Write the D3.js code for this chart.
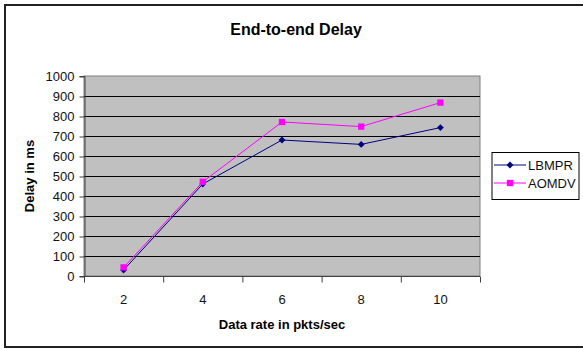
<!DOCTYPE html>
<html>
<head>
<meta charset="utf-8">
<script src="https://cdn.jsdelivr.net/npm/d3@7"></script>
<style>
body { margin: 0; background: #fff; }
text { font-family: "Liberation Sans", Arial, sans-serif; }
</style>
</head>
<body>
<script>
// chart data
const rates = [2, 4, 6, 8, 10];
const lbmpr = [30, 460, 680, 658, 742];
const aomdv = [43, 471, 770, 747, 867];
const yTicks = [0, 100, 200, 300, 400, 500, 600, 700, 800, 900, 1000];

const W = 583, H = 349;
const plotL = 84, plotR = 480, plotT = 76, plotB = 276;

const svg = d3.select("body").append("svg")
  .attr("width", W)
  .attr("height", H);

// outer frame
svg.append("rect")
  .attr("x", 5).attr("y", 5)
  .attr("width", 600).attr("height", 342)
  .attr("fill", "#fff")
  .attr("stroke", "#222")
  .attr("stroke-width", 2);

const x = d3.scaleBand().domain(rates).range([plotL, plotR]);
const y = d3.scaleLinear().domain([0, 1000]).range([plotB, plotT]);

// plot area
svg.append("rect")
  .attr("x", plotL).attr("y", plotT)
  .attr("width", plotR - plotL).attr("height", plotB - plotT)
  .attr("fill", "#c0c0c0")
  .attr("stroke", "#808080")
  .attr("stroke-width", 1);

// gridlines
svg.append("g")
  .selectAll("line")
  .data(yTicks.filter(d => d > 0 && d < 1000))
  .enter()
  .append("line")
  .attr("x1", plotL).attr("x2", plotR)
  .attr("y1", d => y(d) + 0.5).attr("y2", d => y(d) + 0.5)
  .attr("stroke", "#000")
  .attr("stroke-width", 1);

// y axis
const yAxis = svg.append("g")
  .attr("transform", `translate(${plotL + 0.5},0)`)
  .call(d3.axisLeft(y).tickValues(yTicks).tickFormat(d3.format("d")).tickSize(5).tickPadding(5));
yAxis.select(".domain").attr("stroke", "#404040");
yAxis.selectAll(".tick line").attr("stroke", "#404040").attr("transform", "translate(0,0.5)");
yAxis.selectAll(".tick text")
  .attr("font-size", 13)
  .attr("fill", "#111")
  .style("font-family", "'Liberation Sans', Arial, sans-serif");

// x axis (ticks between categories)
const xAxis = svg.append("g")
  .attr("transform", `translate(0,${plotB + 0.5})`);
xAxis.append("line")
  .attr("x1", plotL).attr("x2", plotR)
  .attr("stroke", "#404040");
xAxis.selectAll("line.tk")
  .data(rates.concat(["end"]))
  .enter()
  .append("line")
  .attr("class", "tk")
  .attr("x1", (d, i) => plotL + i * x.bandwidth() + 0.5)
  .attr("x2", (d, i) => plotL + i * x.bandwidth() + 0.5)
  .attr("y1", 0).attr("y2", 6)
  .attr("stroke", "#404040");
xAxis.selectAll("text")
  .data(rates)
  .enter()
  .append("text")
  .attr("x", d => x(d) + x.bandwidth() / 2)
  .attr("y", 27)
  .attr("text-anchor", "middle")
  .attr("font-size", 13)
  .attr("fill", "#111")
  .text(d => d);

// titles
svg.append("text")
  .attr("x", 296).attr("y", 35)
  .attr("text-anchor", "middle")
  .attr("font-size", 16)
  .attr("font-weight", "bold")
  .text("End-to-end Delay");

svg.append("text")
  .attr("x", 282).attr("y", 329)
  .attr("text-anchor", "middle")
  .attr("font-size", 13)
  .attr("font-weight", "bold")
  .text("Data rate in pkts/sec");

svg.append("text")
  .attr("transform", "translate(34,176) rotate(-90)")
  .attr("text-anchor", "middle")
  .attr("font-size", 13)
  .attr("font-weight", "bold")
  .text("Delay in ms");

// series
const cx = d => x(d) + x.bandwidth() / 2;
const series = [
  { name: "LBMPR", values: lbmpr, color: "#000080", shape: d3.symbolDiamond2, size: 30 },
  { name: "AOMDV", values: aomdv, color: "#ff00ff", shape: d3.symbolSquare, size: 40 }
];

const line = d3.line()
  .x(d => cx(d[0]))
  .y(d => y(d[1]));

series.forEach(s => {
  const pts = rates.map((r, i) => [r, s.values[i]]);
  svg.append("path")
    .datum(pts)
    .attr("d", line)
    .attr("fill", "none")
    .attr("stroke", s.color)
    .attr("stroke-width", 1);
  svg.append("g")
    .selectAll("path")
    .data(pts)
    .enter()
    .append("path")
    .attr("d", d3.symbol().type(s.shape).size(s.size))
    .attr("transform", d => `translate(${cx(d[0])},${y(d[1])})`)
    .attr("fill", s.color);
});

// legend
const lg = svg.append("g");
lg.append("rect")
  .attr("x", 492).attr("y", 152.5)
  .attr("width", 87).attr("height", 47)
  .attr("fill", "#fff")
  .attr("stroke", "#000")
  .attr("stroke-width", 1);

series.forEach((s, i) => {
  const ly = 165 + i * 18;
  lg.append("line")
    .attr("x1", 494).attr("x2", 526)
    .attr("y1", ly).attr("y2", ly)
    .attr("stroke", s.color)
    .attr("stroke-width", 1);
  lg.append("path")
    .attr("d", d3.symbol().type(s.shape).size(s.size))
    .attr("transform", `translate(510,${ly})`)
    .attr("fill", s.color);
  lg.append("text")
    .attr("x", 528).attr("y", ly + 5)
    .attr("font-size", 13)
    .attr("fill", "#111")
    .text(s.name);
});
</script>
</body>
</html>
